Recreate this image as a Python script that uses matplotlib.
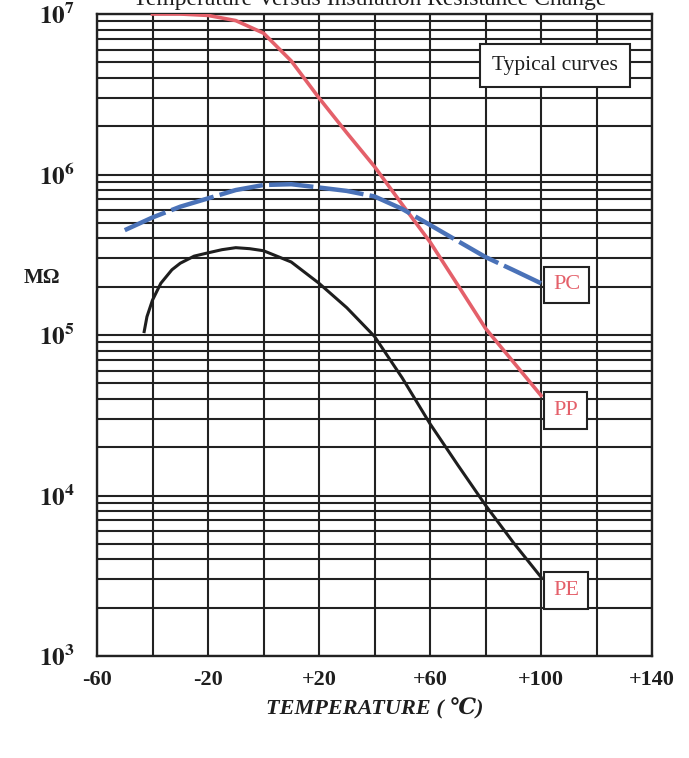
import matplotlib
matplotlib.use("Agg")
import matplotlib.pyplot as plt
from matplotlib.ticker import LogLocator, FixedLocator, NullFormatter

plt.rcParams['mathtext.fontset'] = 'stix'
SERIF = ['Liberation Serif', 'DejaVu Serif']

# ---- data ----
pp_temp = [-40, -30, -20, -10, 0, 10, 20, 30, 40, 50, 60, 70, 80, 90, 100]
pp_mohm = [1.0e7, 1.0e7, 9.8e6, 9.1e6, 7.6e6, 5.1e6, 3.0e6, 1.82e6, 1.12e6,
           6.5e5, 3.8e5, 2.05e5, 1.1e5, 6.8e4, 4.2e4]

pc_temp = [-50, -40, -30, -20, -10, 0, 10, 20, 30, 40, 50, 60, 70, 80, 90, 100]
pc_mohm = [4.5e5, 5.4e5, 6.3e5, 7.1e5, 8.0e5, 8.6e5, 8.7e5, 8.3e5, 7.9e5,
           7.3e5, 6.1e5, 4.85e5, 3.85e5, 3.06e5, 2.54e5, 2.1e5]

pe_temp = [-43, -42, -40, -37, -33, -30, -25, -20, -15, -10, -5, 0, 10, 20,
           30, 40, 50, 60, 70, 80, 90, 100]
pe_mohm = [1.05e5, 1.3e5, 1.65e5, 2.1e5, 2.55e5, 2.8e5, 3.1e5, 3.25e5, 3.4e5,
           3.5e5, 3.45e5, 3.35e5, 2.85e5, 2.1e5, 1.48e5, 9.8e4, 5.4e4, 2.8e4,
           1.55e4, 8.7e3, 5.1e3, 3.1e3]

x_ticks = [-60, -20, 20, 60, 100, 140]
x_tick_labels = ['-60', '-20', '+20', '+60', '+100', '+140']
y_ticks = [1e3, 1e4, 1e5, 1e6, 1e7]
y_tick_labels = [r'$\mathbf{10^3}$', r'$\mathbf{10^4}$', r'$\mathbf{10^5}$',
                 r'$\mathbf{10^6}$', r'$\mathbf{10^7}$']

curve_labels = ['PC', 'PP', 'PE']
label_y = [2.05e5, 3.4e4, 2.55e3]

# ---- figure ----
fig = plt.figure(figsize=(6.89, 7.58), dpi=100)
ax = fig.add_axes([97/689, 1-656/758, 555/689, 642/758])

ax.set_yscale('log')
ax.set_xlim(-60, 140)
ax.set_ylim(1e3, 1e7)

ax.set_xticks(x_ticks)
ax.set_xticklabels(x_tick_labels, family=SERIF, fontsize=16, fontweight='bold',
                   color='#1e1e1e')
ax.xaxis.set_minor_locator(FixedLocator(list(range(-60, 141, 20))))
ax.set_yticks(y_ticks)
ax.set_yticklabels(y_tick_labels, fontsize=18, color='#1e1e1e')
ax.yaxis.set_minor_locator(LogLocator(base=10, subs=[2, 3, 4, 5, 6, 7, 8, 9]))
ax.yaxis.set_minor_formatter(NullFormatter())
ax.tick_params(which='both', length=0)
ax.tick_params(axis='x', pad=10)
ax.tick_params(axis='y', pad=16)

ax.grid(which='both', axis='both', color='#222222', linewidth=1.5)
ax.set_axisbelow(True)
for s in ax.spines.values():
    s.set_color('#222222')
    s.set_linewidth(1.7)

# curves
ax.plot(pp_temp, pp_mohm, color='#e4606a', linewidth=2.6, zorder=3)
ax.plot(pc_temp, pc_mohm, color='#4a72b8', linewidth=3.2, dashes=(10, 1.4), zorder=3)
ax.plot(pe_temp, pe_mohm, color='#1e1e1e', linewidth=2.2, zorder=3)

for lab, yv in zip(curve_labels, label_y):
    ax.text(104.3, yv, lab, family=SERIF, fontsize=16, color='#e4606a',
            ha='left', va='center', zorder=4,
            bbox=dict(boxstyle='square,pad=0.4', fc='white', ec='#222222', lw=1.5))

ax.text(105, 4.8e6, 'Typical curves', family=SERIF, fontsize=15.5, color='#1e1e1e',
        ha='center', va='center', zorder=4,
        bbox=dict(boxstyle='square,pad=0.55', fc='white', ec='#222222', lw=1.5))

# axis labels
fig.text(42/689, 1-278/758, 'MΩ', family=SERIF, fontsize=15, fontweight='bold',
         ha='center', va='center', color='#1e1e1e')
ax.set_xlabel('TEMPERATURE ( ℃)', family=SERIF, fontsize=16, fontstyle='italic',
              fontweight='bold', color='#1e1e1e', labelpad=6)

# title (cut off at top edge, as in the reference)
fig.text(370/689, 1-5/758, 'Temperature Versus Insulation Resistance Change',
         family=SERIF, fontsize=17, ha='center', va='baseline', color='#1e1e1e')

fig.savefig('out.png', dpi=100)
